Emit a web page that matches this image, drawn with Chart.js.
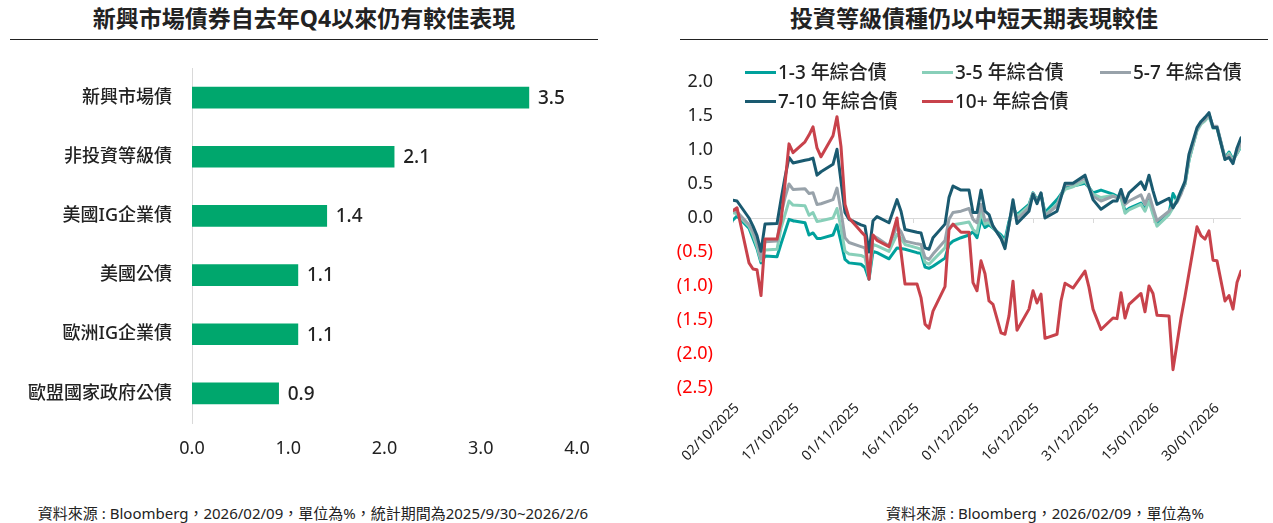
<!DOCTYPE html>
<html><head><meta charset="utf-8">
<script src="https://cdn.jsdelivr.net/npm/chart.js@4.4.1/dist/chart.umd.min.js"></script>
<style>
html,body{margin:0;padding:0;background:#fff;width:1273px;height:523px;overflow:hidden;font-family:"Noto Sans","Noto Sans CJK TC",sans-serif;color:#222;}
.title{position:absolute;top:4px;font-weight:bold;font-size:23px;line-height:28px;text-align:center;color:#222;}
.rule{position:absolute;top:39px;height:0;border-top:1.3px solid #222;}
.foot{position:absolute;top:503px;font-size:15px;line-height:20px;text-align:center;color:#222;white-space:nowrap;}
canvas{position:absolute;}
.lg{position:absolute;font-size:19px;line-height:22px;color:#222;white-space:nowrap;font-weight:500;}
.lg i{position:absolute;width:31px;height:3px;top:10px;left:-33px;}
</style>
</head><body>
<div class="title" style="left:10px;width:588px;">新興市場債券自去年Q4以來仍有較佳表現</div>
<div class="rule" style="left:10px;width:588px;"></div>
<div class="title" style="left:680px;width:588px;">投資等級債種仍以中短天期表現較佳</div>
<div class="rule" style="left:680px;width:588px;"></div>
<canvas id="c1" width="620" height="470" style="left:0;top:0;width:620px;height:470px;"></canvas>
<canvas id="c2" width="637" height="470" style="left:636px;top:0;width:637px;height:470px;"></canvas>
<div id="legend"></div>
<div class="foot" style="left:13px;width:600px;">資料來源 : Bloomberg，2026/02/09，單位為%，統計期間為2025/9/30~2026/2/6</div>
<div class="foot" style="left:845px;width:400px;">資料來源 : Bloomberg，2026/02/09，單位為%</div>
<script>
// ---------- Left chart data ----------
const barCategories = ['新興市場債','非投資等級債','美國IG企業債','美國公債','歐洲IG企業債','歐盟國家政府公債'];
const barValues = [3.5, 2.1, 1.4, 1.1, 1.1, 0.9];

// ---------- Right chart data ----------
const dates = ['2025-10-02','2025-10-03','2025-10-06','2025-10-07','2025-10-08','2025-10-09','2025-10-10',
'2025-10-13','2025-10-14','2025-10-15','2025-10-16','2025-10-17',
'2025-10-20','2025-10-21','2025-10-22','2025-10-23','2025-10-24',
'2025-10-27','2025-10-28','2025-10-29','2025-10-30','2025-10-31',
'2025-11-03','2025-11-04','2025-11-05','2025-11-06','2025-11-07',
'2025-11-10','2025-11-12','2025-11-13','2025-11-14',
'2025-11-17','2025-11-18','2025-11-19','2025-11-20','2025-11-21',
'2025-11-24','2025-11-25','2025-11-26','2025-11-28','2025-11-30',
'2025-12-01','2025-12-02','2025-12-03','2025-12-04','2025-12-05','2025-12-06',
'2025-12-08','2025-12-09','2025-12-10','2025-12-11','2025-12-12',
'2025-12-15','2025-12-16','2025-12-17','2025-12-18','2025-12-19',
'2025-12-22','2025-12-23','2025-12-24','2025-12-26',
'2025-12-29','2025-12-30','2025-12-31','2026-01-02',
'2026-01-05','2026-01-06','2026-01-07','2026-01-08','2026-01-09',
'2026-01-12','2026-01-13','2026-01-14','2026-01-15','2026-01-16',
'2026-01-19','2026-01-20','2026-01-21','2026-01-22','2026-01-23','2026-01-24',
'2026-01-26','2026-01-27','2026-01-28','2026-01-29','2026-01-30','2026-01-31',
'2026-02-02','2026-02-03','2026-02-04','2026-02-05','2026-02-06'];

const s1to3 = [-.03,.03,-.15,-.3,-.45,-.66,-.56,
-.57,-.38,-.2,-.02,-.04,
-.07,-.25,-.22,-.3,-.3,
-.25,-.1,-.35,-.61,-.66,
-.68,-.73,-.9,-.49,-.51,
-.6,-.44,-.45,-.46,
-.51,-.52,-.72,-.74,-.71,
-.59,-.39,-.34,-.29,-.25,
-.2,-.29,-.02,-.14,-.1,-.15,
-.25,-.32,-.05,.15,.05,
.2,.37,.27,.35,.08,
.27,.35,.45,.47,
.51,.45,.37,.41,
.35,.32,.32,.1,.14,
.22,.12,.28,.08,-.08,
.08,.36,.25,.38,.5,.85,
1.3,1.4,1.44,1.52,1.34,1.34,
.88,.97,.86,.95,1.05];

const s3to5 = [.08,.06,-.12,-.25,-.42,-.63,-.47,
-.46,-.15,.05,.25,.19,
.18,.04,.08,-.05,-.04,
0,.14,-.15,-.49,-.53,
-.55,-.58,-.88,-.39,-.41,
-.49,-.24,-.3,-.39,
-.44,-.46,-.65,-.68,-.62,
-.44,-.14,-.1,-.08,-.06,
-.17,-.22,.09,-.09,-.06,-.14,
-.28,-.36,-.1,.17,.02,
.18,.36,.25,.35,.05,
.2,.33,.42,.46,
.54,.45,.35,.3,
.33,.3,.3,.07,.12,
.2,.1,.25,.05,-.12,
.05,.15,.28,.4,.5,.85,
1.28,1.38,1.43,1.5,1.32,1.32,
.86,.95,.85,.95,1.06];

const s5to7 = [.11,.09,-.1,-.2,-.35,-.6,-.35,
-.34,.05,.3,.5,.42,
.43,.36,.37,.2,.21,
.27,.44,.1,-.29,-.36,
-.42,-.44,-.88,-.26,-.29,
-.41,-.12,-.2,-.34,
-.38,-.39,-.58,-.61,-.53,
-.33,-.02,.08,.1,.14,
-.02,-.07,.2,-.04,-.02,-.12,
-.3,-.41,-.1,.2,-.02,
.15,.36,.24,.36,.03,
.18,.33,.48,.5,
.59,.45,.32,.25,
.32,.3,.33,.2,.25,
.34,.2,.35,.15,-.04,
.1,.18,.23,.35,.52,.9,
1.3,1.4,1.45,1.52,1.35,1.35,
.88,.92,.83,.98,1.1];

const s7to10 = [.26,.25,0,-.12,-.26,-.49,-.09,
-.08,.27,.6,.89,.81,
.85,.86,.88,.63,.68,
.79,1.01,.54,.08,-.02,
-.1,-.12,-.5,-.04,.02,
-.07,.27,.1,-.17,
-.21,-.22,-.44,-.46,-.29,
-.09,.3,.47,.41,.41,
.08,.08,.41,.1,.05,-.12,
-.3,-.45,-.1,.27,-.08,
.1,.35,.21,.37,0,
.1,.3,.51,.51,
.63,.45,.27,.13,
.25,.25,.42,.23,.37,
.53,.42,.63,.4,.2,
.29,.15,.25,.4,.54,.94,
1.33,1.42,1.48,1.55,1.33,1.33,
.86,.89,.8,1.03,1.18];

const s10plus = [.11,.15,-.66,-.75,-.76,-1.14,-.31,
-.31,-.05,.5,1.09,.96,
1.12,1.22,1.34,1.03,.9,
1.21,1.49,1.05,.2,0,
-.2,-.26,-.9,-.25,-.33,
-.42,0,-.5,-.97,
-.97,-1.17,-1.56,-1.62,-1.37,
-1.01,-.17,-.09,-.21,-.21,
-.95,-1.07,-.63,-.82,-1.22,-1.27,
-1.69,-1.71,-1.44,-.93,-1.65,
-1.34,-1.07,-1.25,-1.12,-1.77,
-1.71,-1.22,-.96,-1.03,
-.78,-1.02,-1.34,-1.64,
-1.47,-1.48,-1.1,-1.47,-1.27,
-1.11,-1.38,-1,-1.11,-1.43,
-1.44,-2.23,null,-1.47,-1.15,null,
-.13,-.26,-.31,-.19,-.62,-.63,
-1.22,-1.14,-1.34,-.95,-.78];

const seriesNames = ['1-3 年綜合債','3-5 年綜合債','5-7 年綜合債','7-10 年綜合債','10+ 年綜合債'];
const seriesValues = [s1to3, s3to5, s5to7, s7to10, s10plus];
const seriesColors = ['#00a19c','#88cfb9','#98a2aa','#1a5a70','#c8424b'];
const xTickLabels = ['02/10/2025','17/10/2025','01/11/2025','16/11/2025','01/12/2025','16/12/2025','31/12/2025','15/01/2026','30/01/2026'];
const yTickValues = [2.0,1.5,1.0,0.5,0,-0.5,-1.0,-1.5,-2.0,-2.5];

// ---------- helpers ----------
const FONT = '"Noto Sans","Noto Sans CJK TC",sans-serif';
const t0 = Date.UTC(2025,9,2);
function dayOfIso(s){const p=s.split('-').map(Number);return Math.round((Date.UTC(p[0],p[1]-1,p[2])-t0)/86400000);}
function dayOfLabel(s){const p=s.split('/').map(Number);return Math.round((Date.UTC(p[2],p[1]-1,p[0])-t0)/86400000);}
const xTickDays = xTickLabels.map(dayOfLabel);
const lastDay = dayOfIso(dates[dates.length-1]);

// ---------- Left chart ----------
const valueLabels = {
  id:'valueLabels',
  afterDatasetsDraw(chart){
    const ctx=chart.ctx, meta=chart.getDatasetMeta(0);
    ctx.save();
    ctx.font='500 19px '+FONT; ctx.fillStyle='#222'; ctx.textBaseline='middle'; ctx.textAlign='left';
    meta.data.forEach((bar,i)=>{ ctx.fillText(barValues[i].toFixed(1), bar.x+9, bar.y+1); });
    ctx.restore();
  }
};
new Chart(document.getElementById('c1'),{
  type:'bar',
  data:{labels:barCategories,datasets:[{data:barValues,backgroundColor:'#00a76d',barThickness:21}]},
  options:{
    indexAxis:'y',responsive:false,animation:false,
    layout:{padding:{top:68,right:43,left:0,bottom:0}},
    plugins:{legend:{display:false},tooltip:{enabled:false}},
    scales:{
      x:{min:0,max:4,grid:{display:false,drawTicks:false},border:{display:false},
         ticks:{stepSize:1,padding:15,color:'#222',font:{family:FONT,size:18},callback:v=>Number(v).toFixed(1)},
         afterFit(s){s.height=47;}},
      y:{grid:{display:false,drawTicks:false},border:{display:true,color:'#d9d9d9',width:1},
         ticks:{padding:20,color:'#222',font:{family:FONT,size:18,weight:'500'}},
         afterFit(s){s.width=192;}}
    }
  },
  plugins:[valueLabels]
});

// ---------- Right chart ----------
const zeroTicks = {
  id:'zeroTicks',
  beforeDatasetsDraw(chart){
    const ctx=chart.ctx, xs=chart.scales.x, ys=chart.scales.y, y0=ys.getPixelForValue(0);
    ctx.save(); ctx.strokeStyle='#d9d9d9'; ctx.lineWidth=1;
    ctx.beginPath(); ctx.moveTo(chart.chartArea.left,y0+0.5); ctx.lineTo(chart.chartArea.right,y0+0.5); ctx.stroke();
    xTickDays.forEach(d=>{const x=Math.round(xs.getPixelForValue(d))+0.5; ctx.beginPath(); ctx.moveTo(x,y0); ctx.lineTo(x,y0+5); ctx.stroke();});
    ctx.restore();
  }
};
const xDays = dates.map(dayOfIso);
new Chart(document.getElementById('c2'),{
  type:'line',
  data:{datasets:seriesValues.map((vals,k)=>({
    label:seriesNames[k],
    data:vals.map((v,i)=>({x:xDays[i],y:v})),
    borderColor:seriesColors[k],borderWidth:3,pointRadius:0,tension:0,spanGaps:true,
    borderJoinStyle:'round',borderCapStyle:'round',order:5-k
  }))},
  options:{
    responsive:false,animation:false,
    layout:{padding:{top:82,right:32,left:0,bottom:0}},
    plugins:{legend:{display:false},tooltip:{enabled:false}},
    scales:{
      x:{type:'linear',min:0,max:lastDay,grid:{display:false,drawTicks:false},border:{display:false},
         afterBuildTicks(s){s.ticks=xTickDays.map(v=>({value:v}));},
         ticks:{autoSkip:false,maxRotation:45,minRotation:45,padding:12,labelOffset:4,color:'#222',font:{family:FONT,size:14},
                callback:v=>xTickLabels[xTickDays.indexOf(Math.round(v))]},
         afterFit(s){s.height=82;}},
      y:{min:-2.5,max:2.0,grid:{display:false,drawTicks:false},border:{display:false},
         afterBuildTicks(s){s.ticks=yTickValues.map(v=>({value:v}));},
         ticks:{padding:20,font:{family:FONT,size:18},
                color:c=>c.tick.value<0?'#ff0000':'#222',
                callback:v=>v<0?'('+Math.abs(v).toFixed(1)+')':Number(v).toFixed(1)},
         afterFit(s){s.width=97;}}
    }
  },
  plugins:[zeroTicks]
});

// ---------- Legend (HTML) ----------
const legendPos = [[778,61],[955,61],[1133,61],[778,90],[955,90]];
const lg=document.getElementById('legend');
seriesNames.forEach((n,k)=>{
  const d=document.createElement('div'); d.className='lg';
  d.style.left=legendPos[k][0]+'px'; d.style.top=legendPos[k][1]+'px';
  d.innerHTML='<i style="background:'+seriesColors[k]+'"></i>'+n;
  lg.appendChild(d);
});
</script>
</body></html>
